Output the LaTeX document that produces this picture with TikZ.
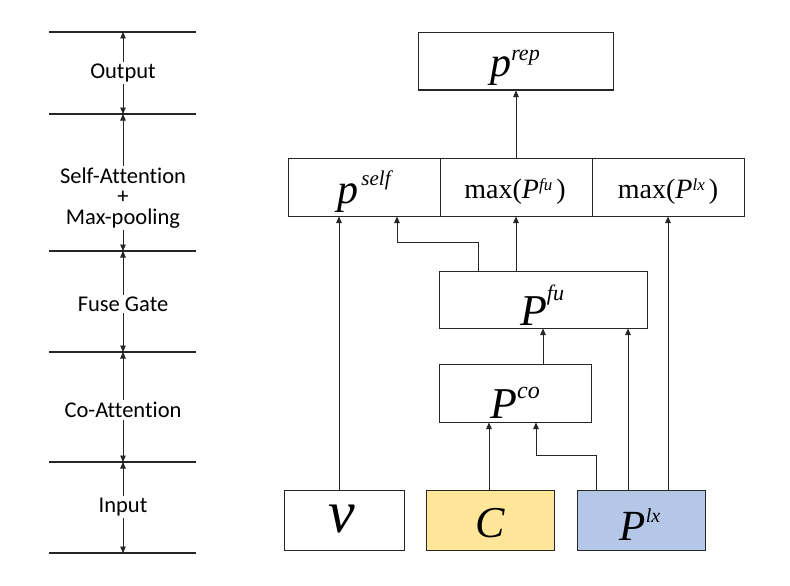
\documentclass[tikz,border=0pt]{standalone}
\usepackage{fontspec}
\setmainfont{Liberation Serif}
\newfontfamily\labfont[Ligatures=NoCommon]{Carlito}
\usetikzlibrary{arrows.meta,calc}
\definecolor{linec}{HTML}{262626}
\definecolor{yellowbox}{HTML}{FFE699}
\definecolor{bluebox}{HTML}{B4C7E7}
\newcommand{\supr}[3]{\raisebox{#1}{\fontsize{#2}{#2}\selectfont\itshape #3}}
\begin{document}
\begin{tikzpicture}[x=1pt,y=-1pt,
  boxnode/.style={draw=linec, line width=1pt, minimum height=58pt, inner sep=0pt, rectangle},
  arr/.style={draw=linec, line width=0.9pt, -{Triangle[length=6.5pt,width=5.5pt]}},
  dbl/.style={draw=linec, line width=0.9pt, {Triangle[length=6.5pt,width=5.5pt]}-{Triangle[length=6.5pt,width=5.5pt]}},
  layer/.style={draw=linec, line width=1.1pt},
  lab/.style={fill=white, inner sep=2pt, align=center, font=\labfont\fontsize{22.5}{20.5}\selectfont},
  txt/.style={anchor=base, inner sep=0pt}
]
\useasboundingbox (0,0) rectangle (790,586);

% ---- left legend ----
\foreach \n/\y in {l0/32, l1/114, l2/251, l3/352, l4/462, l5/553} {
  \coordinate (\n a) at (49,\y);
  \coordinate (\n b) at (196,\y);
  \coordinate (\n m) at (123,\y);
  \draw[layer] (\n a) -- (\n b);
}
\draw[dbl] (l1m) -- (l0m);
\draw[dbl] (l2m) -- (l1m);
\draw[dbl] (l3m) -- (l2m);
\draw[dbl] (l4m) -- (l3m);
\draw[dbl] (l5m) -- (l4m);
\node[lab] (tOut) at (123,73) {Output};
\node[lab] (tSelf) at (123,198) {Self-Attention\\+\\Max-pooling};
\node[lab] (tFuse) at (123,304) {Fuse Gate};
\node[lab] (tCo) at (123,410) {Co-Attention};
\node[lab] (tIn) at (123,507) {Input};

% ---- boxes ----
\node[boxnode, minimum width=195pt, minimum height=57pt] (rep) at (515.5,61.5) {};
\node[boxnode, minimum width=152pt] (self) at (364,187) {};
\node[boxnode, minimum width=152pt] (maxfu) at (516,187) {};
\node[boxnode, minimum width=152pt] (maxlx) at (668,187) {};
\node[boxnode, minimum width=208pt, minimum height=57pt] (fu) at (543,299.5) {};
\node[boxnode, minimum width=152pt] (co) at (515,393) {};
\node[boxnode, minimum width=120pt, minimum height=60pt] (v) at (344,520) {};
\node[boxnode, minimum width=128pt, minimum height=60pt, fill=yellowbox] (C) at (490,520) {};
\node[boxnode, minimum width=128pt, minimum height=60pt, fill=bluebox] (lx) at (641,520) {};

% ---- texts ----
\node[txt] (trep) at (515,77) {\fontsize{42}{42}\selectfont\itshape p\supr{17pt}{22}{rep}};
\node[txt] (tself) at (364,203) {\fontsize{42}{42}\selectfont\itshape p\hspace{3pt}\supr{18pt}{21}{self}};
\node[txt] (tmaxfu) at (515,198) {\fontsize{28}{28}\selectfont max(\textit{P}\supr{8pt}{17}{fu}\hspace{4pt})};
\node[txt] (tmaxlx) at (668,198) {\fontsize{28}{28}\selectfont max(\textit{P}\supr{8pt}{17}{lx}\hspace{4pt})};
\node[txt] (tfu) at (542,325) {\fontsize{44}{44}\selectfont\itshape P\supr{25pt}{22}{fu}};
\node[txt] (tco) at (515,418) {\fontsize{44}{44}\selectfont\itshape P\supr{20pt}{24}{co}};
\node[txt] (tv) at (342,532) {\fontsize{60}{60}\selectfont\itshape v};
\node[txt] (tC) at (490,537) {\fontsize{44}{44}\selectfont\itshape C};
\node[txt] (tlx) at (640,540) {\fontsize{43}{43}\selectfont\itshape P\supr{18pt}{20}{lx}};

% ---- connectors ----
\draw[arr] (maxfu.north) -- (maxfu.north |- rep.south);
\draw[arr] ([xshift=-5pt]v.north) -- ([xshift=-5pt]v.north |- self.south);
\draw[arr] ([xshift=-65pt]fu.north) |- ++(0,-28) -| ([xshift=33pt]self.south);
\draw[arr] (maxfu.south |- fu.north) -- (maxfu.south);
\draw[arr] (maxlx.south |- lx.north) -- (maxlx.south);
\draw[arr] ([xshift=-13pt]lx.north) -- ([xshift=-13pt]lx.north |- fu.south);
\draw[arr] (fu.south |- co.north) -- (fu.south);
\draw[arr] ([xshift=-1pt]C.north) -- ([xshift=-1pt]C.north |- co.south);
\draw[arr] ([xshift=-45pt]lx.north) |- ++(0,-34) -| ([xshift=21pt]co.south);
\end{tikzpicture}
\end{document}
